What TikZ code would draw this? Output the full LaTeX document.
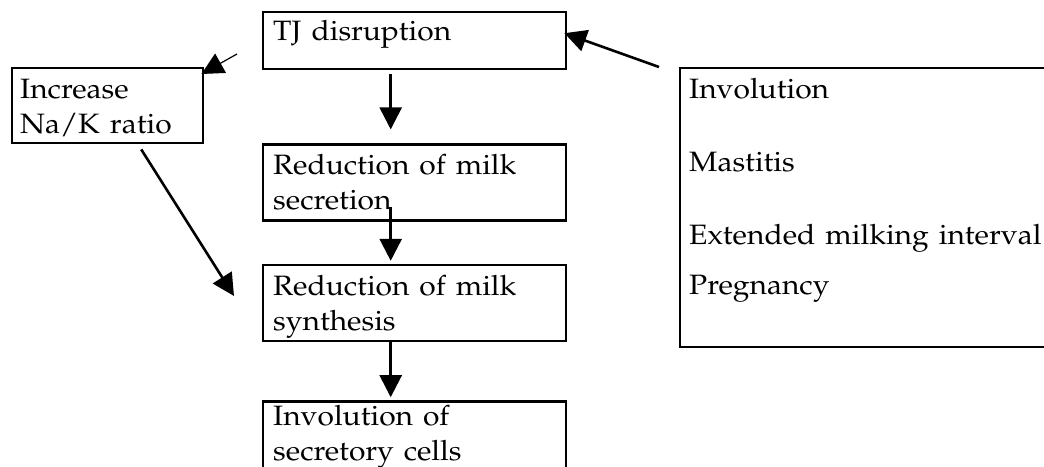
\documentclass[tikz,border=0pt]{standalone}
\usepackage[T1]{fontenc}
\usepackage{mathpazo}
\usetikzlibrary{arrows.meta, positioning}
\newcommand{\wide}[1]{\scalebox{1.07}[1]{#1}}
\tikzset{
  box/.style={rectangle, draw=black, line width=1.2pt, anchor=north west, inner xsep=5pt, inner ysep=0pt, align=left, text height=15pt, font=\fontsize{14}{17.5}\selectfont},
  arrow/.style={line width=1.3pt, -{Triangle[length=11pt,width=11pt]}},
  thinarrow/.style={line width=0.6pt, -{Triangle[length=11pt,width=11pt]}}
}

\begin{document}
\begin{tikzpicture}[x=0.5pt, y=-0.5pt]
    \useasboundingbox (0,0) rectangle (1044,466);

    % Main chain
    \node (tj) [box, text width=141.5pt, text height=14pt, text depth=14.5pt] at (262,11) {\wide{TJ disruption}};
    \node (sec) [box, below=36.5pt of tj.south west, anchor=north west, text width=141.5pt, text depth=23pt] {\wide{Reduction of milk}\\\wide{secretion}};
    \node (syn) [box, below=21pt of sec.south west, anchor=north west, text width=141.5pt, text depth=23pt] {\wide{Reduction of milk}\\\wide{synthesis}};
    \node (inv) [box, below=29pt of syn.south west, anchor=north west, text width=141.5pt, text height=12pt, text depth=60pt] {\wide{Involution of}\\\wide{secretory cells}};

    % Side boxes
    \node (inc) [box, inner xsep=4pt, text width=87.5pt, text depth=22.5pt] at (11,67) {\wide{Increase}\\\wide{Na/K ratio}};
    \node (causes) [box, inner xsep=4.5pt, text width=200pt, text depth=124.5pt] at (679,67) {\wide{Involution}\\[19pt]\wide{Mastitis}\\[19pt]\wide{Extended milking interval}\\[7.5pt]\wide{Pregnancy}};
    \coordinate (tjtail) at (237,54);

    % Arrows
    \draw[arrow, shorten <=2pt, shorten >=7pt] ([xshift=-12pt]tj.south) -- ([xshift=-12pt]sec.north);
    \draw[arrow, shorten <=-7.5pt, shorten >=1.5pt] ([xshift=-12pt]sec.south) -- ([xshift=-12pt]syn.north);
    \draw[arrow, shorten >=1.5pt] ([xshift=-12pt]syn.south) -- ([xshift=-12pt]inv.north);
    \draw[thinarrow] (tjtail) -- ([xshift=-1.5pt,yshift=-3.5pt]inc.north east);
    \draw[arrow] ([xshift=-10pt]causes.north west) -- ([xshift=-1.5pt,yshift=3.75pt]tj.east);
    \draw[arrow] ([xshift=16.75pt,yshift=-2.5pt]inc.south) -- ([xshift=-14pt,yshift=3.5pt]syn.west);
\end{tikzpicture}
\end{document}
